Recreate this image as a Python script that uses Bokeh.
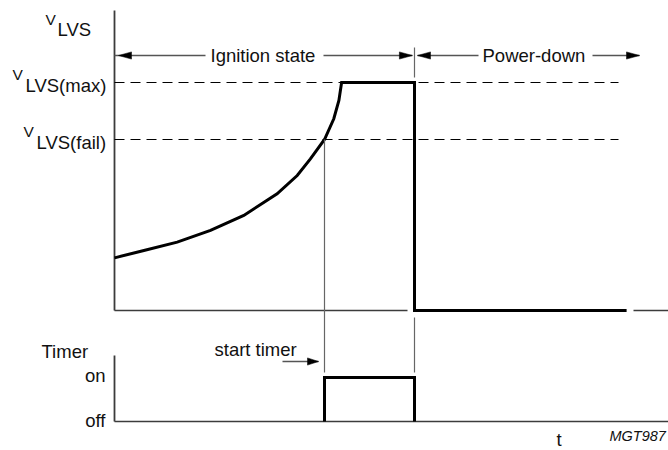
from bokeh.plotting import figure
from bokeh.models import Range1d
from bokeh.core.properties import value
from bokeh.embed import file_html
from bokeh.resources import INLINE

# ---------------- data (time in arbitrary units, voltage normalised to V_LVS(max)) -------------
t_curve = [0.0, 0.98, 2.09, 3.20, 4.31, 5.42, 6.09, 6.53, 7.00, 7.31, 7.48, 7.57]
v_curve = [0.231, 0.263, 0.300, 0.351, 0.417, 0.512, 0.592, 0.665, 0.750, 0.841, 0.921, 1.000]
V_MAX = 1.0          # V_LVS(max)
V_FAIL = 0.75        # V_LVS(fail)
T_FAIL = 7.0         # start timer
T_OFF = 10.0         # end of ignition state
T_END = 17.07        # end of drawn power-down level
timer_t = [T_FAIL, T_FAIL, T_OFF, T_OFF]
timer_level = [0, 1, 1, 0]          # off / on
state_labels = ["Ignition state", "Power-down"]
timer_labels = ["on", "off"]

# ---------------- layout ----------------
W, H = 668, 450
PXT, PXV = 30.0, 228.0           # pixels per unit
OX, OY = 114.0, 310.0            # page position of (t=0, v=0)
def tx(px): return (px - OX) / PXT
def vy(py): return (OY - py) / PXV
TIMER_BASE = vy(421)             # timer panel baseline
TIMER_STEP = vy(377) - vy(421)   # height of "on"
def tl(level): return TIMER_BASE + level * TIMER_STEP

p = figure(width=W, height=H, output_backend="svg", toolbar_location=None,
           x_range=Range1d(tx(0), tx(W)), y_range=Range1d(vy(H), vy(0)),
           min_border=0)
p.axis.visible = False
p.grid.visible = False
p.outline_line_color = None
p.background_fill_color = "white"
p.border_fill_color = "white"

AX = "#3c3c3c"
THIN = "#666666"
FONT = value("Liberation Sans")

# axes of top panel
p.line([0, 0], [0, vy(10)], line_color=AX, line_width=1.8)
p.line([0, tx(407)], [0, 0], line_color=AX, line_width=1.5)
p.line([tx(633), tx(680)], [0, 0], line_color=AX, line_width=1.5)

# dashed reference levels
for lvl in (V_MAX, V_FAIL):
    p.line([0, tx(618)], [lvl, lvl], line_color="black", line_width=1.2, line_dash="10 6")

# V_LVS signal
sig_t = t_curve + [T_OFF, T_OFF, T_END]
sig_v = v_curve + [V_MAX, 0, 0]
p.line(sig_t, sig_v, line_color="black", line_width=3, line_join="miter")

# marker lines
p.line([T_FAIL, T_FAIL], [V_FAIL, vy(372)], line_color=THIN, line_width=1.2)
p.line([T_OFF, T_OFF], [vy(47), vy(77)], line_color=THIN, line_width=1.2)
p.line([T_OFF, T_OFF], [vy(317), vy(372)], line_color=THIN, line_width=1.2)

# state arrows
ya = vy(55)
segs = [(tx(114), tx(205)), (tx(323), T_OFF - 0.07), (T_OFF + 0.1, tx(478)), (tx(592), tx(639))]
for a, b in segs:
    p.line([a, b], [ya, ya], line_color="#555555", line_width=1.5)
hl, hh = 13 / PXT, 3.6 / PXV
heads_x = [[tx(118), tx(118) + hl, tx(118) + hl],
           [T_OFF - 0.07, T_OFF - 0.07 - hl, T_OFF - 0.07 - hl],
           [T_OFF + 0.1, T_OFF + 0.1 + hl, T_OFF + 0.1 + hl],
           [tx(639), tx(639) - hl, tx(639) - hl]]
heads_y = [[ya, ya + hh, ya - hh]] * 4
# start timer arrow
ys = vy(361)
p.line([tx(282), tx(318)], [ys, ys], line_color="#555555", line_width=1.5)
heads_x.append([tx(318), tx(318) - 11 / PXT, tx(318) - 11 / PXT])
heads_y.append([ys, ys + hh, ys - hh])
p.patches(heads_x, heads_y, fill_color="black", line_color="black", line_width=0.5)

# timer panel
p.line([0, 0], [vy(355), TIMER_BASE], line_color=AX, line_width=1.8)
p.line([0, tx(680)], [TIMER_BASE, TIMER_BASE], line_color=AX, line_width=1.5)
p.line(timer_t, [tl(l) for l in timer_level], line_color="black", line_width=3, line_join="miter")

# ---------------- texts ----------------
DY = -6
def label(txt, px, py, size="18.5px", align="left", style="normal"):
    p.text(x=[tx(px)], y=[vy(py + DY)], text=[txt], text_font=FONT, text_font_size=size,
           text_align=align, text_baseline="alphabetic", text_color="#111111",
           text_font_style=style)

label("V", 45, 25, size="15.5px")
label("LVS", 57, 35)
label("V", 12, 80, size="15.5px")
label("LVS(max)", 25, 91)
label("V", 23, 137, size="15.5px")
label("LVS(fail)", 36, 148)
label(state_labels[0], 210, 61)
label(state_labels[1], 482, 61)
label("start timer", 214, 355)
label("Timer", 41, 357)
label(timer_labels[0], 105, 381, align="right")
label(timer_labels[1], 105, 426, align="right")
label("t", 556, 445)
label("MGT987", 609, 441, size="14.5px", style="italic")

open("out.html", "w").write(file_html(p, INLINE))
